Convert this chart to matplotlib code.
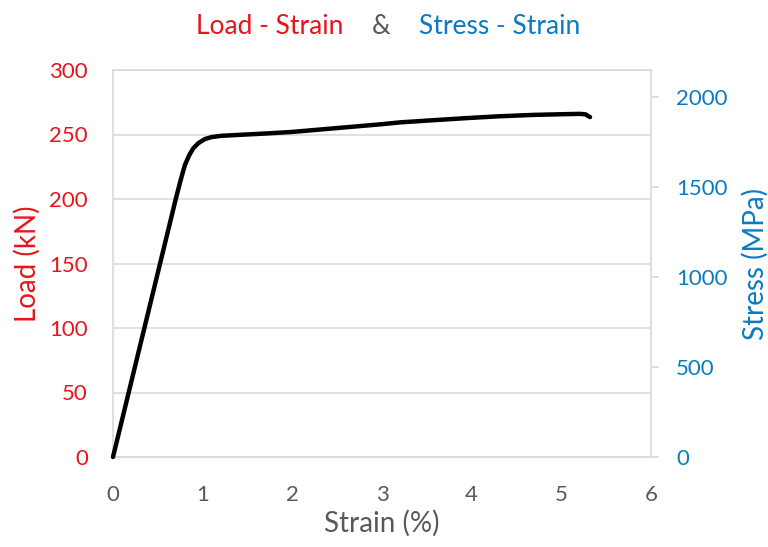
import matplotlib
matplotlib.use("Agg")
import matplotlib.pyplot as plt
import numpy as np

strain = [0.0, 0.175, 0.35, 0.525, 0.70, 0.75, 0.78, 0.803, 0.85, 0.896, 0.95, 1.026, 1.10,
          1.21, 1.40, 1.71, 2.00, 2.45, 3.00, 3.20, 3.60, 3.94, 4.30, 4.69, 5.00,
          5.21, 5.27, 5.32]
load = [0.0, 50, 100, 150, 200, 213.5, 221, 226.5, 234, 239.3, 243.2, 246.5, 248,
        249, 249.7, 250.8, 252, 254.7, 258, 259.4, 261.2, 262.7, 264.1, 265.2, 265.7,
        266, 265.6, 263.5]

x_ticks = [0, 1, 2, 3, 4, 5, 6]
load_ticks = [0, 50, 100, 150, 200, 250, 300]
stress_ticks = [0, 500, 1000, 1500, 2000]

RED = "#E8141B"
BLUE = "#0A7BC2"
GRAY = "#595959"
GRID = "#D9D9D9"

plt.rcParams['font.family'] = ['Lato', 'DejaVu Sans']

fig = plt.figure(figsize=(7.68, 5.47), dpi=100)
ax = fig.add_axes([113/768, 90/547, 538/768, 387/547])

ax.plot(strain, load, color="black", lw=3.2, solid_capstyle="round",
        solid_joinstyle="round", zorder=3, clip_on=False)
ax.set_xlim(0, 6)
ax.set_ylim(0, 300)
ax.set_xticks(x_ticks)
ax.set_yticks(load_ticks)
ax.grid(axis="y", color=GRID, lw=1.1)
ax.set_axisbelow(True)
for s in ["left", "right", "top", "bottom"]:
    ax.spines[s].set_color(GRID)
    ax.spines[s].set_linewidth(1.2)
ax.tick_params(axis="y", length=0, pad=18, labelsize=16, labelcolor=RED)
ax.tick_params(axis="x", length=0, pad=20, labelsize=16, labelcolor=GRAY)
ax.set_ylabel("Load (kN)", color=RED, fontsize=20, labelpad=6)
ax.set_xlabel("Strain (%)", color=GRAY, fontsize=20, labelpad=4)

ax2 = ax.twinx()
ax2.set_ylim(0, 2150)
ax2.set_yticks(stress_ticks)
for s in ["left", "right", "top", "bottom"]:
    ax2.spines[s].set_visible(False)
ax2.tick_params(axis="y", length=6, width=1.2, color=GRID, pad=12, labelsize=16, labelcolor=BLUE)
ax2.set_ylabel("Stress (MPa)", color=BLUE, fontsize=20, labelpad=10)

ty = 1 - 27/547
fig.text(270/768, ty, "Load - Strain", color=RED, fontsize=19, ha="center", va="center")
fig.text(381/768, ty, "&", color=GRAY, fontsize=19, ha="center", va="center")
fig.text(500/768, ty, "Stress - Strain", color=BLUE, fontsize=19, ha="center", va="center")

fig.savefig("out.png", dpi=100)
